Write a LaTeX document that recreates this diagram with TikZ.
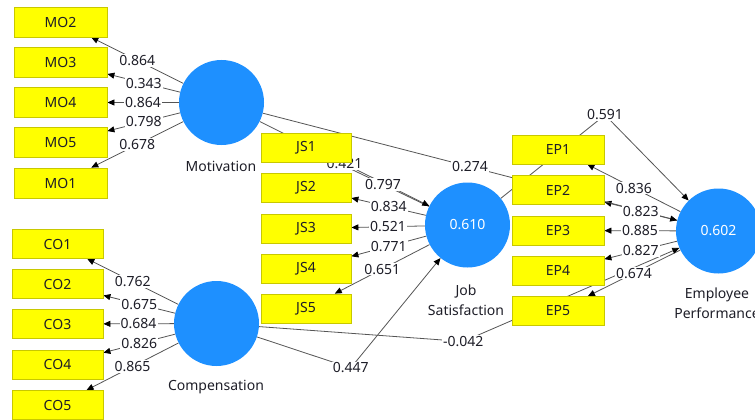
\documentclass[tikz,border=0pt]{standalone}
\usepackage{fontspec}
\setmainfont{Noto Sans}
\usetikzlibrary{arrows.meta}
\pgfdeclarelayer{bgpaper}
\pgfdeclarelayer{edges}
\pgfdeclarelayer{labels}
\pgfsetlayers{bgpaper,edges,labels,main}
\definecolor{lvblue}{RGB}{30,144,255}
\definecolor{mvyellow}{RGB}{255,255,0}
\definecolor{mvborder}{RGB}{200,200,0}
\definecolor{linegray}{RGB}{85,85,85}
\definecolor{txt}{RGB}{30,30,40}
\begin{document}
\begin{tikzpicture}[x=1pt,y=-1pt,
  every node/.style={font=\fontsize{14}{17}\selectfont, text=txt},
  lv/.style={circle, fill=lvblue, minimum size=85pt, inner sep=0pt, text=white},
  mv/.style={rectangle, fill=mvyellow, draw=mvborder, line width=0.8pt, minimum height=29pt, inner sep=0pt},
  ld/.style={draw=linegray, line width=0.8pt, -{Triangle[length=7pt,width=6pt,color=black]}},
  lbl/.style={fill=white, inner sep=1.2pt},
  lvcap/.style={align=center, font=\fontsize{14}{20}\selectfont}
]
\begin{pgfonlayer}{bgpaper}
\fill[white] (0,0) rectangle (755,420);
\end{pgfonlayer}
\useasboundingbox (0,0) rectangle (755,420);

% latent variables
\node[lv] (mot) at (221.5,102.5) {};
\node[lv] (comp) at (216.5,323.5) {};
\node[lv] (js) at (467.5,225) {0.610};
\node[lv] (ep) at (718.5,231) {0.602};
\node[lvcap] (motcap) at (221,166) {Motivation};
\node[lvcap] (compcap) at (216,387) {Compensation};
\node[lvcap] (jscap) at (466,300) {Job\\Satisfaction};
\node[lvcap] (epcap) at (717,303) {Employee\\Performance};

% indicators
\begin{scope}[every node/.append style={mv, minimum width=93pt, minimum height=30pt}]
\node (mo2) at (60.5,22) {MO2};
\node (mo3) at (60.5,62.25) {MO3};
\node (mo4) at (60.5,102.5) {MO4};
\node (mo5) at (60.5,142.75) {MO5};
\node (mo1) at (60.5,183) {MO1};
\end{scope}
\begin{scope}[every node/.append style={mv, minimum width=91pt}]
\node (co1) at (57.5,244) {CO1};
\node (co2) at (57.5,284) {CO2};
\node (co3) at (57.5,324) {CO3};
\node (co4) at (57.5,364.5) {CO4};
\node (co5) at (57.5,405) {CO5};
\end{scope}
\begin{scope}[every node/.append style={mv, minimum width=90pt}]
\node (js1) at (306,147.5) {JS1};
\node (js2) at (306,187.5) {JS2};
\node (js3) at (306,228.5) {JS3};
\node (js4) at (306,268.5) {JS4};
\node (js5) at (306,308.5) {JS5};
\end{scope}
\begin{scope}[every node/.append style={mv, minimum width=92pt}]
\node (ep1) at (558,149.5) {EP1};
\node (ep2) at (558,190.3) {EP2};
\node (ep3) at (558,230.5) {EP3};
\node (ep4) at (558,270.5) {EP4};
\node (ep5) at (558,311) {EP5};
\end{scope}

% labels
\begin{pgfonlayer}{labels}
\node[lbl] (l447) at (350.7,368) {0.447};
\node[lbl] (l042) at (463.3,341.5) {-0.042};
\node[lbl] (l591) at (605,115) {0.591};
\path (mot) -- (js) node[lbl,midway] (l421) {0.421};
\path (mot) -- (ep) node[lbl,midway] (l274) {0.274};
\foreach \b/\v in {mo2/0.864, mo3/0.343, mo4/0.864, mo5/0.798, mo1/0.678}
  \path (mot) -- (\b) node[lbl,midway] (lab\b) {\v};
\foreach \b/\v in {co1/0.762, co2/0.675, co3/0.684, co4/0.826, co5/0.865}
  \path (comp) -- (\b) node[lbl,midway] (lab\b) {\v};
\foreach \b/\v in {js1/0.797, js2/0.834, js3/0.521, js4/0.771, js5/0.651}
  \path (js) -- (\b) node[lbl,midway] (lab\b) {\v};
\foreach \b/\v in {ep1/0.836, ep2/0.823, ep3/0.885, ep4/0.827, ep5/0.674}
  \path (ep) -- (\b) node[lbl,midway] (lab\b) {\v};
\end{pgfonlayer}

% connectors
\begin{pgfonlayer}{edges}
\foreach \b in {mo2,mo3,mo4,mo5,mo1} \draw[ld] (mot) -- (\b);
\foreach \b in {co1,co2,co3,co4,co5} \draw[ld] (comp) -- (\b);
\foreach \b in {js1,js2,js3,js4,js5} \draw[ld] (js) -- (\b);
\foreach \b in {ep1,ep2,ep3,ep4,ep5} \draw[ld] (ep) -- (\b);
\draw[ld] (mot) -- (js);
\draw[ld] (mot) -- (ep);
\draw[ld] (comp) -- (l447.center) -- (js);
\draw[ld] (comp) -- (l042.center) -- (ep);
\draw[ld] (js) -- (l591.center) -- (ep);
\end{pgfonlayer}
\end{tikzpicture}
\end{document}
